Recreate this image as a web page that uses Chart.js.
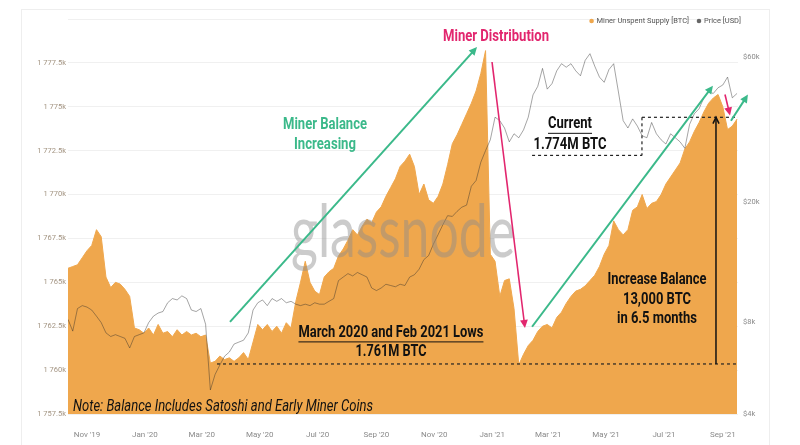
<!DOCTYPE html>
<html>
<head>
<meta charset="utf-8">
<script src="https://cdn.jsdelivr.net/npm/chart.js@4.4.1/dist/chart.umd.min.js"></script>
<style>
  html, body { margin: 0; padding: 0; background: #fff; }
  #wrap { position: relative; width: 800px; height: 445px; overflow: hidden; }
  #frame { position: absolute; left: 21px; top: 9px; width: 747px; height: 445px; border: 1px solid #eeeeee; }
  #chart { position: absolute; left: 0; top: 0; }
</style>
</head>
<body>
<div id="wrap">
  <div id="frame"></div>
  <canvas id="chart" width="800" height="445"></canvas>
</div>
<script>
// days counted from 1 Nov 2019, one reading every 5 days
const startDay = -20;
const stepDays = 5;

// Miner Unspent Supply, thousands of BTC
const supply = [
  1765.8, 1765.9, 1766.0, 1766.4, 1766.8, 1767.1, 1768.0, 1767.6, 1765.3, 1764.7,
  1765.0, 1764.9, 1764.6, 1764.2, 1762.4, 1762.3, 1762.1, 1762.4, 1762.0, 1762.6,
  1762.1, 1762.2, 1761.9, 1762.3, 1762.0, 1762.2, 1762.0, 1762.1, 1761.9, 1762.0,
  1760.4, 1760.5, 1760.8, 1760.6, 1760.7, 1760.5, 1760.7, 1761.0, 1760.6, 1761.6,
  1762.6, 1762.3, 1762.6, 1762.2, 1762.5, 1762.1, 1762.7, 1762.4, 1763.9, 1765.0,
  1766.2, 1765.0, 1764.5, 1764.3, 1765.3, 1765.6, 1765.8, 1766.5, 1766.9, 1767.4,
  1768.0, 1767.7, 1768.2, 1768.6, 1768.4, 1769.0, 1769.3, 1769.9, 1770.4, 1770.9,
  1771.6, 1771.9, 1772.3, 1771.6, 1770.0, 1770.6, 1769.7, 1769.5, 1769.9, 1770.6,
  1771.7, 1772.9, 1773.4, 1774.0, 1774.6, 1775.2, 1775.9, 1776.9, 1778.2, 1766.6,
  1766.2, 1764.2, 1765.1, 1765.2, 1763.5, 1760.3, 1760.9, 1761.4, 1761.7, 1762.2,
  1762.5, 1762.6, 1762.4, 1763.0, 1763.3, 1763.8, 1764.2, 1764.5, 1764.6, 1764.8,
  1765.1, 1765.4, 1765.9, 1766.6, 1767.1, 1768.5, 1768.0, 1767.7, 1768.0, 1769.1,
  1769.3, 1770.0, 1769.2, 1769.5, 1769.6, 1770.0, 1770.6, 1771.0, 1771.4, 1771.8,
  1772.6, 1773.0, 1773.6, 1774.1, 1774.7, 1775.2, 1775.5, 1775.7, 1775.0, 1773.7,
  1773.9, 1774.3
];

// BTC price, USD
const price = [
  8200, 7500, 8900, 9100, 9000, 8800, 8400, 8000, 7400, 7200,
  7300, 7200, 7100, 6600, 7200, 7300, 7400, 8000, 8400, 8600,
  8700, 9300, 9600, 9500, 9800, 9600, 8800, 8700, 8900, 7900,
  4800, 5400, 5800, 6200, 6400, 6800, 6900, 7000, 7400, 8800,
  9300, 9500, 9100, 9600, 9400, 9600, 9300, 9400, 9200, 9100,
  9200, 9100, 9300, 9200, 9200, 9400, 9600, 11000, 11300, 11600,
  11400, 11700, 11500, 11300, 10400, 10200, 10400, 10700, 10600, 10500,
  10700, 10600, 11300, 11500, 12000, 12900, 13300, 14500, 15600, 16800,
  18000, 17900, 18600, 19200, 19500, 22500, 23500, 27000, 29500, 32000,
  38000, 37000, 35000, 31500, 33500, 32500, 34500, 38000, 45000, 48000,
  55000, 47000, 49000, 54000, 57000, 55500, 57000, 54000, 52000, 58500,
  61500, 56000, 51500, 49500, 54500, 57000, 46000, 37000, 35000, 37500,
  35500, 33000, 32500, 36500, 33500, 32000, 31000, 33500, 32500, 31500,
  30000, 36000, 39000, 40500, 44000, 46000, 45500, 47500, 48500, 51500,
  44000, 45500
];

// x axis ticks (first of month) and labels
const tickDays = [0, 61, 121, 182, 243, 305, 366, 427, 486, 547, 608, 670];
const tickLabels = ["Nov '19", "Jan '20", "Mar '20", "May '20", "Jul '20", "Sep '20",
                    "Nov '20", "Jan '21", "Mar '21", "May '21", "Jul '21", "Sep '21"];
const priceTicks = [4000, 8000, 20000, 60000];

const ORANGE = "#efa74d";
const GREEN = "#3bb98a";
const PINK = "#e2266e";
const BOLD = "bold 16px Roboto, 'Liberation Sans', sans-serif";

const supplyPts = supply.map((v, i) => ({ x: startDay + i * stepDays, y: v }));
const pricePts = price.map((v, i) => ({ x: startDay + i * stepDays, y: v }));

//#region annotations (day, thousand BTC)
const arrows = [
  { from: [150.7, 1762.75], to: [411, 1778.4], color: GREEN, w: 2 },
  { from: [426.8, 1777.55], to: [461.5, 1762.4], color: PINK, w: 1.6 },
  { from: [469, 1762.47], to: [659.6, 1776.2], color: GREEN, w: 2 },
  { from: [672.3, 1775.7], to: [677.6, 1774.5], color: PINK, w: 1.6 },
  { from: [678.6, 1774.2], to: [696.5, 1775.7], color: GREEN, w: 2 }
];
const dashed = [
  [[584.8, 1774.4], [686, 1774.4]],
  [[584.8, 1774.4], [584.8, 1772.23]],
  [[469, 1772.23], [584.8, 1772.23]],
  [[137, 1760.35], [686, 1760.35]]
];
const labels = [
  { text: "Miner Distribution", at: [431, 1779.0], color: PINK, maxW: 106 },
  { text: "Miner Balance", at: [250.8, 1773.94], color: GREEN, maxW: 84 },
  { text: "Increasing", at: [250.8, 1772.85], color: GREEN, maxW: 62 },
  { text: "Current", at: [509, 1774.0], color: "#111", maxW: 44, underline: true },
  { text: "1.774M BTC", at: [509, 1772.85], color: "#111", maxW: 73 },
  { text: "March 2020 and Feb 2021 Lows", at: [320.3, 1762.12], color: "#111", maxW: 185, underline: true },
  { text: "1.761M BTC", at: [320.3, 1761.04], color: "#111", maxW: 71 },
  { text: "Increase Balance", at: [600.6, 1765.15], color: "#111", maxW: 99 },
  { text: "13,000 BTC", at: [600.6, 1764.0], color: "#111", maxW: 68 },
  { text: "in 6.5 months", at: [600.6, 1762.9], color: "#111", maxW: 80 }
];
//#endregion

function arrowHead(ctx, x1, y1, x2, y2, size, open) {
  const a = Math.atan2(y2 - y1, x2 - x1);
  ctx.beginPath();
  ctx.moveTo(x2 - size * Math.cos(a - 0.45), y2 - size * Math.sin(a - 0.45));
  ctx.lineTo(x2, y2);
  ctx.lineTo(x2 - size * Math.cos(a + 0.45), y2 - size * Math.sin(a + 0.45));
  if (open) { ctx.stroke(); } else { ctx.closePath(); ctx.fill(); }
}

const overlay = {
  id: "overlay",
  afterDatasetsDraw(chart) {
    const ctx = chart.ctx;
    const xs = chart.scales.x, ys = chart.scales.ySupply;
    const area = chart.chartArea;
    const px = d => xs.getPixelForValue(d);
    const py = v => ys.getPixelForValue(v);
    ctx.save();

    // watermark
    ctx.fillStyle = "rgba(140,140,140,0.45)";
    ctx.font = "normal 74px Lato, Roboto, sans-serif";
    ctx.textAlign = "center";
    ctx.textBaseline = "alphabetic";
    ctx.fillText("glassnode", (area.left + area.right) / 2, area.top + 238, 224);

    // dashed levels
    ctx.strokeStyle = "#222";
    ctx.lineWidth = 1.2;
    ctx.setLineDash([3, 3]);
    dashed.forEach(([a, b]) => {
      ctx.beginPath();
      ctx.moveTo(px(a[0]), py(a[1]));
      ctx.lineTo(px(b[0]), py(b[1]));
      ctx.stroke();
    });
    ctx.setLineDash([]);

    // vertical increase arrow
    ctx.lineWidth = 1.5;
    ctx.strokeStyle = "#111";
    ctx.beginPath();
    ctx.moveTo(px(662.8), py(1760.35));
    ctx.lineTo(px(662.8), py(1774.4));
    ctx.stroke();
    arrowHead(ctx, px(662.8), py(1760.35), px(662.8), py(1774.4), 7, true);

    // coloured arrows
    arrows.forEach(a => {
      const x1 = px(a.from[0]), y1 = py(a.from[1]);
      const x2 = px(a.to[0]), y2 = py(a.to[1]);
      const ang = Math.atan2(y2 - y1, x2 - x1);
      ctx.strokeStyle = a.color;
      ctx.fillStyle = a.color;
      ctx.lineWidth = a.w;
      ctx.beginPath();
      ctx.moveTo(x1, y1);
      ctx.lineTo(x2 - 4 * Math.cos(ang), y2 - 4 * Math.sin(ang));
      ctx.stroke();
      arrowHead(ctx, x1, y1, x2, y2, 9, false);
    });

    // text labels
    ctx.font = BOLD;
    ctx.textAlign = "center";
    ctx.textBaseline = "middle";
    labels.forEach(l => {
      const x = px(l.at[0]), y = py(l.at[1]);
      ctx.fillStyle = l.color;
      ctx.fillText(l.text, x, y, l.maxW);
      if (l.underline) {
        const w = Math.min(ctx.measureText(l.text).width, l.maxW);
        ctx.strokeStyle = l.color;
        ctx.lineWidth = 1;
        ctx.beginPath();
        ctx.moveTo(x - w / 2, y + 9);
        ctx.lineTo(x + w / 2, y + 9);
        ctx.stroke();
      }
    });

    // note
    ctx.fillStyle = "#111";
    ctx.font = "italic 16px Roboto, sans-serif";
    ctx.textAlign = "left";
    ctx.fillText("Note: Balance Includes Satoshi and Early Miner Coins", area.left + 5, area.bottom - 7, 300);

    // legend
    ctx.font = "7.5px Roboto, sans-serif";
    ctx.textAlign = "right";
    ctx.fillStyle = "#555";
    const ly = 21;
    let lx = area.right + 3;
    ctx.fillText("Price [USD]", lx, ly);
    lx -= ctx.measureText("Price [USD]").width + 5;
    ctx.fillStyle = "#666";
    ctx.beginPath(); ctx.arc(lx, ly, 2.3, 0, Math.PI * 2); ctx.fill();
    lx -= 10;
    ctx.fillStyle = "#555";
    ctx.fillText("Miner Unspent Supply [BTC]", lx, ly);
    lx -= ctx.measureText("Miner Unspent Supply [BTC]").width + 5;
    ctx.fillStyle = ORANGE;
    ctx.beginPath(); ctx.arc(lx, ly, 2.3, 0, Math.PI * 2); ctx.fill();

    ctx.restore();
  }
};

const ctx = document.getElementById("chart").getContext("2d");
new Chart(ctx, {
  type: "line",
  data: {
    datasets: [
      {
        label: "Price [USD]",
        data: pricePts,
        yAxisID: "yPrice",
        borderColor: "rgba(40,40,40,0.42)",
        borderWidth: 1,
        pointRadius: 0,
        fill: false,
        order: 0
      },
      {
        label: "Miner Unspent Supply [BTC]",
        data: supplyPts,
        yAxisID: "ySupply",
        borderColor: ORANGE,
        backgroundColor: ORANGE,
        borderWidth: 1,
        pointRadius: 0,
        fill: "start",
        order: 1
      }
    ]
  },
  options: {
    responsive: false,
    animation: false,
    layout: { padding: { top: 19, left: 0, right: 0, bottom: 0 } },
    plugins: { legend: { display: false }, tooltip: { enabled: false } },
    scales: {
      x: {
        type: "linear",
        min: startDay,
        max: 686,
        grid: { display: false },
        border: { display: false },
        afterBuildTicks: s => { s.ticks = tickDays.map(v => ({ value: v })); },
        afterFit: s => { s.height = 31; },
        ticks: {
          autoSkip: false,
          maxRotation: 0,
          padding: 8,
          color: "#8a8a8a",
          font: { family: "Roboto", size: 8 },
          callback: v => tickLabels[tickDays.indexOf(v)]
        }
      },
      ySupply: {
        type: "linear",
        position: "left",
        min: 1757.5,
        max: 1780,
        grid: { color: "#f0f0f0", drawTicks: false },
        border: { display: false },
        afterFit: s => { s.width = 68; },
        ticks: {
          stepSize: 2.5,
          padding: 2,
          color: "#a39482",
          font: { family: "Roboto", size: 7.5 },
          callback: v => v >= 1780 ? "" : v.toFixed(1).replace(/\.0$/, "").replace(/^(\d)(\d{3})/, "$1 $2") + "k"
        }
      },
      yPrice: {
        type: "logarithmic",
        position: "right",
        min: 4000,
        max: 80000,
        grid: { display: false, drawTicks: false },
        border: { display: false },
        afterBuildTicks: s => { s.ticks = priceTicks.map(v => ({ value: v })); },
        afterFit: s => { s.width = 62; },
        ticks: {
          padding: 5,
          color: "#8a8a8a",
          font: { family: "Roboto", size: 7.5 },
          callback: v => "$" + (v / 1000) + "k"
        }
      }
    }
  },
  plugins: [overlay]
});
</script>
</body>
</html>
